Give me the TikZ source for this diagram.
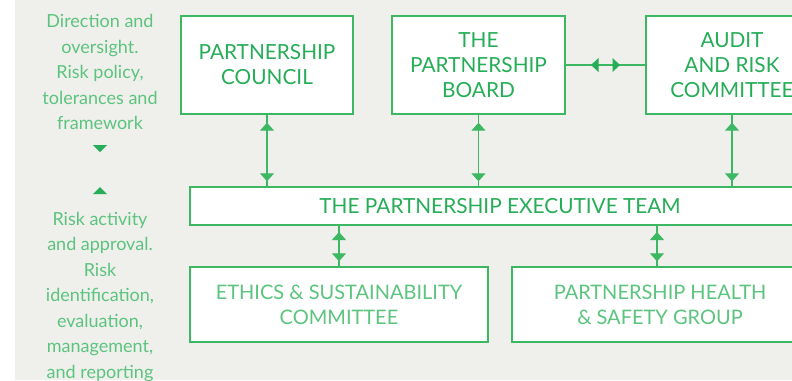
\documentclass[tikz,border=0pt]{standalone}
\usepackage{fontspec}
\setmainfont{Lato}
\usetikzlibrary{arrows.meta,calc}
\definecolor{bg}{HTML}{EFEFEB}
\definecolor{gline}{HTML}{3CB863}
\definecolor{gdark}{HTML}{26AD57}
\definecolor{glight}{HTML}{5CC47F}
\tikzset{
  box/.style={draw=gline, line width=1.4pt, fill=white, inner sep=0pt, align=center},
  toptext/.style={text=gdark, font=\fontsize{20.8}{25}\selectfont},
  lowtext/.style={text=glight, font=\fontsize{20}{25}\selectfont},
  sidetext/.style={text=glight, align=center, font=\fontsize{18}{25.5}\selectfont},
  conn/.style={draw=gline, line width=1.2pt},
  tips/.style={conn, {Triangle[width=14pt,length=8pt]}-{Triangle[width=14pt,length=8pt]}},
  tri/.style={fill=gdark, draw=none}
}
\begin{document}
\begin{tikzpicture}[x=1pt,y=-1pt]
\useasboundingbox (0,0) rectangle (792,380);
\clip (0,0) rectangle (792,380);
\fill[bg] (15,0) rectangle (792,380);

% top row
\node[box, toptext, minimum width=172pt, minimum height=98pt] (council) at (267,65) {PARTNERSHIP\\COUNCIL};
\node[box, toptext, minimum width=173pt, minimum height=98pt] (board) at (478.5,65) {THE\\PARTNERSHIP\\BOARD};
\node[box, toptext, minimum width=172pt, minimum height=98pt] (audit) at (732,65) {AUDIT\\AND RISK\\COMMITTEE};

% executive team
\node[box, toptext, minimum width=620pt, minimum height=38pt] (exec) at (500,206) {THE PARTNERSHIP EXECUTIVE TEAM};

% lower row
\node[box, lowtext, minimum width=298pt, minimum height=75pt] (ethics) at (339,304.5) {ETHICS \& SUSTAINABILITY\\COMMITTEE};
\node[box, lowtext, minimum width=296pt, minimum height=75pt] (hs) at (660,304.5) {PARTNERSHIP HEALTH\\\& SAFETY GROUP};

% vertical connectors
\foreach \n in {council,board,audit}{
  \draw[conn] (\n.south) -- (\n.south |- exec.north);
  \draw[tips, shorten <=8pt, shorten >=5pt] (\n.south) -- (\n.south |- exec.north);
}
\coordinate (e1) at (339,225);
\coordinate (e2) at (657,225);
\draw[conn] (e1) -- (e1 |- ethics.north);
\draw[tips, shorten <=7pt, shorten >=5pt] (e1) -- (e1 |- ethics.north);
\draw[conn] (e2) -- (e2 |- hs.north);
\draw[tips, shorten <=7pt, shorten >=5pt] (e2) -- (e2 |- hs.north);

% horizontal connector
\draw[conn] (board.east) -- (audit.west);
\coordinate (hm) at ($(board.east)!0.5!(audit.west)$);
\fill[tri] ($(hm)+(-14.5,0)$) -- ++(7.5,-7) -- ++(0,14) -- cycle;
\fill[tri] ($(hm)+(14.5,0)$) -- ++(-7.5,-7) -- ++(0,14) -- cycle;

% side texts
\node[sidetext] (side1) at (100,72) {Direction and\\oversight.\\Risk policy,\\tolerances and\\framework};
\fill[tri] (100,152) -- (93,145) -- (107,145) -- cycle;
\fill[tri] (100,187) -- (93,194) -- (107,194) -- cycle;
\node[sidetext, anchor=north] (side2) at (100,208.5) {Risk activity\\and approval.\\Risk\\identification,\\evaluation,\\management,\\and reporting};
\end{tikzpicture}
\end{document}
